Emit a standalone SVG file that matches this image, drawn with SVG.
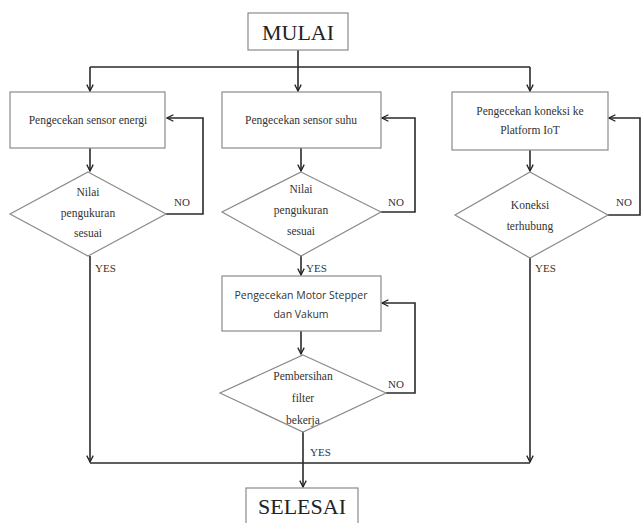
<svg xmlns="http://www.w3.org/2000/svg" width="641" height="523" viewBox="0 0 641 523">
<defs>
<marker id="arr" viewBox="0 0 10 10" refX="9" refY="5" markerWidth="8" markerHeight="8" orient="auto" markerUnits="userSpaceOnUse">
<path d="M1,1 L9,5 L1,9" fill="none" stroke="#222" stroke-width="1.6"/>
</marker>
</defs>
<style>
.box{fill:#fff;stroke:#8a8a8a;stroke-width:1.2}
.t{font-family:"Liberation Serif","Times New Roman",serif;font-size:11.5px;fill:#333;text-anchor:middle}
.s{font-family:"Open Sans","Liberation Sans",sans-serif;font-size:10.5px;fill:#333;text-anchor:middle}
.big{font-family:"Liberation Serif","Times New Roman",serif;font-size:22px;fill:#222;text-anchor:middle}
.lab{font-family:"Liberation Serif","Times New Roman",serif;font-size:11px;fill:#333}
.c{fill:none;stroke:#2a2a2a;stroke-width:1.6}
</style>
<rect width="641" height="523" fill="#fff"/>
<g id="connectors">
<path class="c" d="M298,50 V91" marker-end="url(#arr)"/>
<path class="c" d="M90,67 H530"/>
<path class="c" d="M90,67 V91" marker-end="url(#arr)"/>
<path class="c" d="M530,67 V91" marker-end="url(#arr)"/>
<path class="c" d="M90,148 V171" marker-end="url(#arr)"/>
<path class="c" d="M301,148 V171" marker-end="url(#arr)"/>
<path class="c" d="M530,150 V171" marker-end="url(#arr)"/>
<path class="c" d="M166,214 H203 V118 H167" marker-end="url(#arr)"/>
<path class="c" d="M381,212 H415 V118 H382" marker-end="url(#arr)"/>
<path class="c" d="M608,215 H640 V118 H609" marker-end="url(#arr)"/>
<path class="c" d="M90,256 V462" marker-end="url(#arr)"/>
<path class="c" d="M530,258 V462" marker-end="url(#arr)"/>
<path class="c" d="M301,256 V275" marker-end="url(#arr)"/>
<path class="c" d="M301,331 V354" marker-end="url(#arr)"/>
<path class="c" d="M386,393 H415 V303 H382" marker-end="url(#arr)"/>
<path class="c" d="M90,463 H530"/>
<path class="c" d="M303,432 V487" marker-end="url(#arr)"/>
<text class="lab" x="174" y="206">NO</text>
<text class="lab" x="388" y="206">NO</text>
<text class="lab" x="616" y="206">NO</text>
<text class="lab" x="388" y="388">NO</text>
<text class="lab" x="95" y="272">YES</text>
<text class="lab" x="306" y="272">YES</text>
<text class="lab" x="535" y="272">YES</text>
<text class="lab" x="310" y="456">YES</text>
</g>
<g id="mulai">
<rect class="box" x="248" y="13" width="100" height="37"/>
<text class="big" x="298" y="40">MULAI</text>
</g>
<g id="cek-energi">
<rect class="box" x="10" y="92" width="155" height="56"/>
<text class="t" x="88" y="124">Pengecekan sensor energi</text>
</g>
<g id="cek-suhu">
<rect class="box" x="222" y="92" width="159" height="56"/>
<text class="t" x="301" y="124">Pengecekan sensor suhu</text>
</g>
<g id="cek-koneksi">
<rect class="box" x="452" y="92" width="156" height="58"/>
<text class="t" x="530" y="115">Pengecekan koneksi ke</text>
<text class="t" x="530" y="134">Platform IoT</text>
</g>
<g id="nilai-energi">
<polygon class="box" points="88,172 166,214 88,256 10,214"/>
<text class="t" x="88" y="196">Nilai</text>
<text class="t" x="88" y="217">pengukuran</text>
<text class="t" x="88" y="237">sesuai</text>
</g>
<g id="nilai-suhu">
<polygon class="box" points="301,172 381,212 301,256 222,212"/>
<text class="t" x="301" y="193">Nilai</text>
<text class="t" x="301" y="214">pengukuran</text>
<text class="t" x="301" y="235">sesuai</text>
</g>
<g id="koneksi">
<polygon class="box" points="530,172 608,215 530,258 455,215"/>
<text class="t" x="530" y="209">Koneksi</text>
<text class="t" x="530" y="230">terhubung</text>
</g>
<g id="cek-motor">
<rect class="box" x="222" y="276" width="159" height="55"/>
<text class="s" x="301" y="299">Pengecekan Motor Stepper</text>
<text class="s" x="301" y="318">dan Vakum</text>
</g>
<g id="pembersihan">
<polygon class="box" points="303,355 386,393 303,432 220,393"/>
<text class="t" x="303" y="380">Pembersihan</text>
<text class="t" x="303" y="402">filter</text>
<text class="t" x="303" y="424">bekerja</text>
</g>
<g id="selesai">
<rect class="box" x="246" y="488" width="112" height="40"/>
<text class="big" x="302" y="514">SELESAI</text>
</g>
</svg>
